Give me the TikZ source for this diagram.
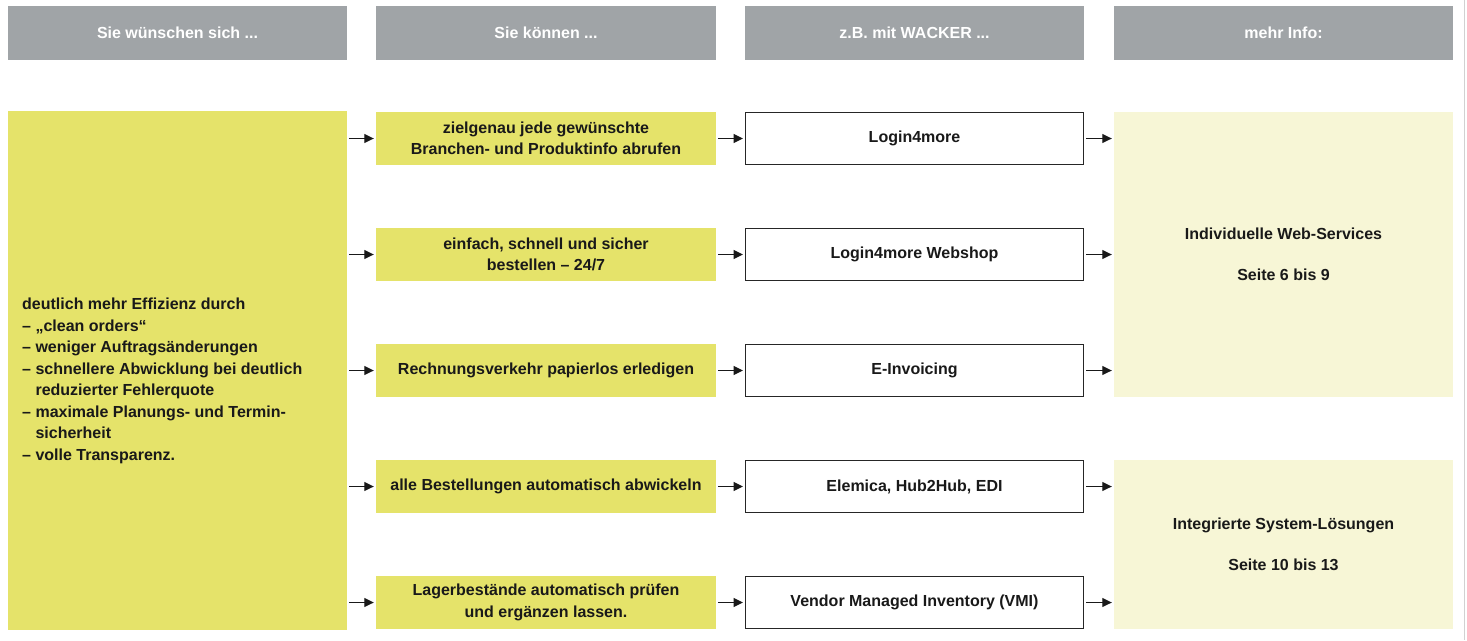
\documentclass[tikz,border=0pt]{standalone}
\usepackage{fontspec}
\setmainfont{Liberation Sans}
\usetikzlibrary{arrows.meta}
\definecolor{hdrgray}{HTML}{A0A4A7}
\definecolor{wyellow}{HTML}{E5E36A}
\definecolor{lyellow}{HTML}{F7F6D6}
\begin{document}
\begin{tikzpicture}[x=1pt,y=-1pt,
  txt/.style={font=\fontsize{16}{21.5}\selectfont\bfseries, text=black!90},
  hdr/.style={fill=hdrgray, minimum width=339pt, minimum height=54pt, inner sep=0pt,
    font=\fontsize{16}{19}\selectfont\bfseries, text=white},
  ybox/.style={txt, fill=wyellow, minimum width=340pt, minimum height=53pt, inner sep=0pt, align=center},
  wbox/.style={txt, draw=black!85, line width=1pt, fill=white, minimum width=338pt, minimum height=52pt, inner sep=0pt, align=center},
  ibox/.style={txt, fill=lyellow, minimum width=339pt, inner sep=0pt, align=center},
  arr/.style={-{Triangle[length=9.5pt,width=9pt]}, line width=1.1pt, black!90, shorten <=2pt, shorten >=2pt}
]
\useasboundingbox (0,0) rectangle (1467,640);
\fill[white] (0,0) rectangle (1467,640);
\draw[black!18, line width=0.8pt] (1464.5,0) -- (1464.5,640);

% headers
\node[hdr] (h1) at (177.5,33) {Sie wünschen sich ...};
\node[hdr, minimum width=340pt] (h2) at (546,33) {Sie können ...};
\node[hdr] (h3) at (914.5,33) {z.B. mit WACKER ...};
\node[hdr] (h4) at (1283.5,33) {mehr Info:};

% left box
\node[fill=wyellow, minimum width=339pt, minimum height=519pt, inner sep=0pt] (left) at (177.5,370.5) {};
\node[txt, anchor=north west, align=left, inner sep=0pt] (lefttxt) at (22,298)
  {deutlich mehr Effizienz durch\\
   – „clean orders“\\
   – weniger Auftragsänderungen\\
   – schnellere Abwicklung bei deutlich\\
   \hphantom{– }reduzierter Fehlerquote\\
   – maximale Planungs- und Termin-\\
   \hphantom{– }sicherheit\\
   – volle Transparenz.};

% column 2
\node[ybox] (a1) at (546,138.5) {zielgenau jede gewünschte\\Branchen- und Produktinfo abrufen};
\node[ybox] (a2) at (546,254.5) {einfach, schnell und sicher\\bestellen – 24/7};
\node[ybox] (a3) at (546,370.5) {Rechnungsverkehr papierlos erledigen};
\node[ybox] (a4) at (546,486.5) {alle Bestellungen automatisch abwickeln};
\node[ybox] (a5) at (546,602.5) {Lagerbestände automatisch prüfen\\und ergänzen lassen.};

% column 3
\node[wbox] (b1) at (914.5,138.5) {Login4more};
\node[wbox] (b2) at (914.5,254.5) {Login4more Webshop};
\node[wbox] (b3) at (914.5,370.5) {E-Invoicing};
\node[wbox] (b4) at (914.5,486.5) {Elemica, Hub2Hub, EDI};
\node[wbox] (b5) at (914.5,602.5) {Vendor Managed Inventory (VMI)};

% column 4
\node[ibox, minimum height=285pt] (c1) at (1283.5,254.5) {Individuelle Web-Services\\[20pt]Seite 6 bis 9};
\node[ibox, minimum height=169pt] (c2) at (1283.5,544.5) {Integrierte System-Lösungen\\[20pt]Seite 10 bis 13};

% arrows
\foreach \i in {1,...,5} {
  \draw[arr] (left.east |- a\i.west) -- (a\i.west);
  \draw[arr] (a\i.east) -- (b\i.west);
}
\foreach \i in {1,2,3} { \draw[arr] (b\i.east) -- (c1.west |- b\i.east); }
\foreach \i in {4,5} { \draw[arr] (b\i.east) -- (c2.west |- b\i.east); }
\end{tikzpicture}
\end{document}
